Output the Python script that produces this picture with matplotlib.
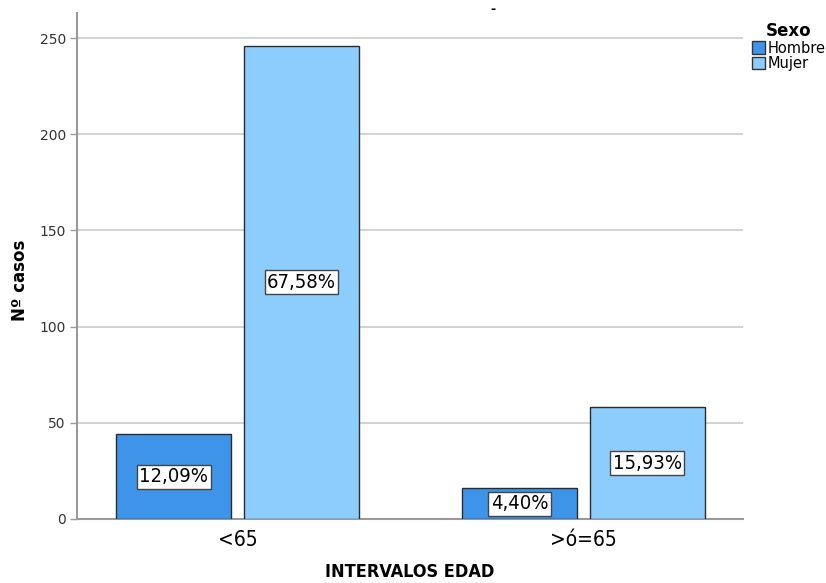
import matplotlib
matplotlib.use("Agg")
import matplotlib.pyplot as plt
import numpy as np
from matplotlib.patches import Patch

# counts per age band and sex
grupos = ["<65", ">ó=65"]
hombre = [44, 16]
mujer = [246, 58]
pct_hombre = ["12,09%", "4,40%"]
pct_mujer = ["67,58%", "15,93%"]

c_hombre = "#3d94e9"
c_mujer = "#8dcdfd"

fig = plt.figure(figsize=(8.26, 5.83), dpi=100)
ax = fig.add_axes([77/826, 1 - 519/583, 666/826, 506/583])

x = np.arange(len(grupos))
w = 0.332
off = (w + 0.0376) / 2
b1 = ax.bar(x - off, hombre, w, color=c_hombre, edgecolor="#2b2b2b", linewidth=1.0, zorder=3)
b2 = ax.bar(x + off, mujer, w, color=c_mujer, edgecolor="#2b2b2b", linewidth=1.0, zorder=3)

box = dict(boxstyle="square,pad=0.12", fc="white", ec="#444444", lw=1.0)
for bars, labs in ((b1, pct_hombre), (b2, pct_mujer)):
    for r, lab in zip(bars, labs):
        ax.text(r.get_x() + r.get_width() / 2, r.get_height() / 2, lab,
                ha="center", va="center", fontsize=14.5, fontstretch="condensed",
                bbox=box, zorder=4)

ax.set_xlim(-0.464, 1.461)
ax.set_ylim(0, 263)
ax.set_yticks([0, 50, 100, 150, 200, 250])
ax.yaxis.grid(True, color="#cccccc", linewidth=1.2, zorder=0)
ax.set_axisbelow(True)
ax.set_xticks(x)
ax.set_xticklabels(grupos, fontsize=15, fontstretch="condensed")
ax.tick_params(axis="y", labelsize=10, colors="#999999", length=5, width=1, pad=3)
ax.tick_params(axis="x", length=0, pad=8)
for lab in ax.get_yticklabels():
    lab.set_color("#333333")
for s in ("top", "right"):
    ax.spines[s].set_visible(False)
for s in ("left", "bottom"):
    ax.spines[s].set_color("#999999")
    ax.spines[s].set_linewidth(1.5)

fig.text(410/826, 1 - 572/583, "INTERVALOS EDAD", ha="center", va="center",
         fontsize=13, fontweight="bold", fontstretch="condensed")
fig.text(20/826, 1 - 280/583, "Nº casos", ha="center", va="center",
         rotation=90, fontsize=12, fontweight="bold")

handles = [Patch(fc=c_hombre, ec="#333333", label="Hombre"),
           Patch(fc=c_mujer, ec="#333333", label="Mujer")]
leg = fig.legend(handles=handles, title="Sexo", loc="upper left",
                 bbox_to_anchor=(746/826, 1 - 16/583), frameon=False,
                 fontsize=10.5, handlelength=0.9, handleheight=0.9,
                 handletextpad=0.2, labelspacing=0.05, borderaxespad=0)
leg.get_title().set_fontweight("bold")
leg.get_title().set_fontsize(12)

fig.text(493/826, 1 - 9/583, "-", ha="center", va="center", fontsize=9, fontweight="bold")

fig.savefig("out.png", dpi=100)
